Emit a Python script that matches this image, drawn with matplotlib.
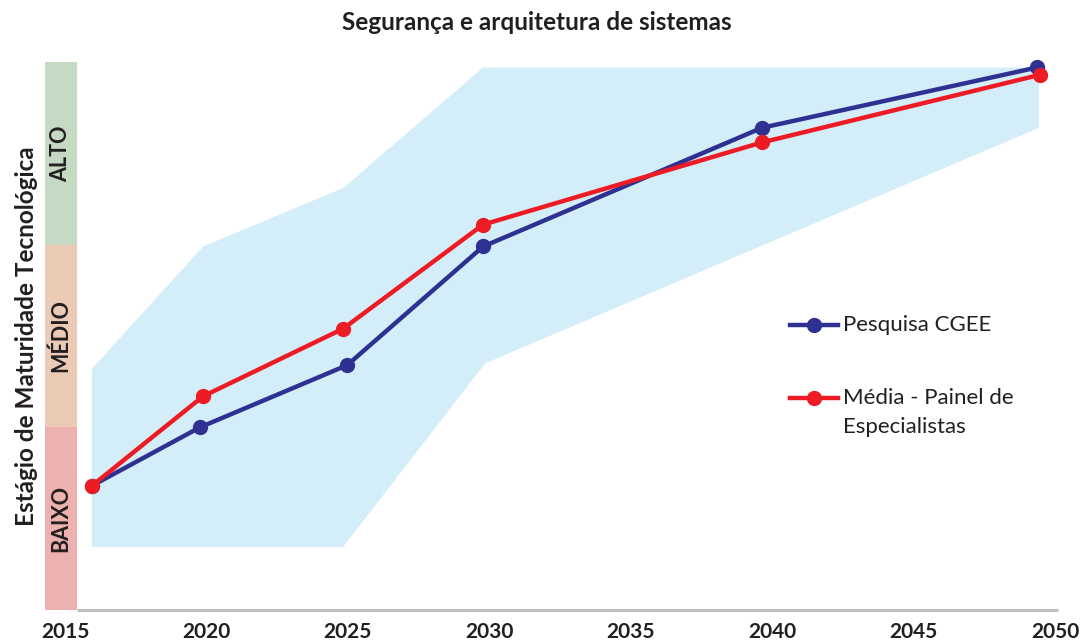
import matplotlib
matplotlib.use("Agg")
import matplotlib.pyplot as plt
from matplotlib.patches import Rectangle

plt.rcParams['font.family'] = ['Lato', 'DejaVu Sans']

# series read as (year, maturity level); 0-1 baixo, 1-2 medio, 2-3 alto
years_cgee = [2015.95, 2019.77, 2024.97, 2029.78, 2039.64, 2049.36]
vals_cgee = [0.68, 1.00, 1.34, 1.99, 2.64, 2.97]
years_painel = [2015.95, 2019.88, 2024.83, 2029.78, 2039.64, 2049.46]
vals_painel = [0.68, 1.17, 1.54, 2.11, 2.56, 2.93]

# spread of the expert panel (upper and lower envelope)
band_years_up = [2015.95, 2019.88, 2024.83, 2029.78, 2049.43]
band_up = [1.32, 1.99, 2.31, 2.97, 2.97]
band_years_low = [2015.95, 2024.83, 2029.85, 2049.43]
band_low = [0.345, 0.345, 1.35, 2.64]

levels = ['BAIXO', 'MÉDIO', 'ALTO']
level_colors = ['#edb1b0', '#ebcbb6', '#c6d9c4']
xticks = [2015, 2020, 2025, 2030, 2035, 2040, 2045, 2050]

BLUE = '#2e3192'
RED = '#ed1c24'
INK = '#231f20'

fig = plt.figure(figsize=(10.89, 6.43), dpi=100)
W, H = 1089.0, 643.0
ax = fig.add_axes([45 / W, 33 / H, (1062 - 45) / W, 548 / H])
x0, x1 = 2014.293, 2050.24
ax.set_xlim(x0, x1)
ax.set_ylim(0, 3)
for s in ax.spines.values():
    s.set_visible(False)

# shaded spread
poly_x = band_years_up + band_years_low[::-1]
poly_y = band_up + band_low[::-1]
ax.fill(poly_x, poly_y, color='#d4eef9', lw=0, zorder=1)

# maturity level strip on the left
strip_right = 2015.424
for i, (lab, col) in enumerate(zip(levels, level_colors)):
    ax.add_patch(Rectangle((x0, i), strip_right - x0, 1, color=col, lw=0,
                           clip_on=False, zorder=2))
    ax.text((x0 + strip_right) / 2, i + 0.5, lab, rotation=90, ha='center',
            va='center', fontsize=15.5, fontweight='bold', color=INK, zorder=3)

# baseline
ax.plot([strip_right, 2050.10], [0, 0], color='#bcbec0', lw=2.2,
        solid_capstyle='butt', clip_on=False, zorder=2)

ax.plot(years_cgee, vals_cgee, color=BLUE, lw=3.2, marker='o', ms=10,
        zorder=4, clip_on=False)
ax.plot(years_painel, vals_painel, color=RED, lw=3.2, marker='o', ms=10,
        zorder=5, clip_on=False)

ax.set_xticks(xticks)
ax.set_xticklabels([str(t) for t in xticks], fontsize=15, fontweight='bold',
                   color=INK)
ax.tick_params(axis='x', length=0, pad=9)
ax.set_yticks([])

ax.set_ylabel('Estágio de Maturidade Tecnológica', fontsize=17.5,
              fontweight='bold', color=INK)
ax.yaxis.set_label_coords(-7 / 1017, 0.5)

fig.text(537 / W, 1 - 22 / H, 'Segurança e arquitetura de sistemas',
         ha='center', va='center', fontsize=17.5, fontweight='bold',
         color=INK)


# hand-placed legend
def fx(px):
    return (px - 45) / 1017.0


def fy(py):
    return (610 - py) / 548.0


entries = [(BLUE, 'Pesquisa CGEE', 325),
           (RED, 'Média - Painel de\nEspecialistas', 398)]
for col, lab, py in entries:
    ax.plot([fx(790), fx(838)], [fy(py), fy(py)], color=col, lw=3.2,
            transform=ax.transAxes, clip_on=False, zorder=6)
    ax.plot([fx(814)], [fy(py)], color=col, marker='o', ms=10,
            transform=ax.transAxes, clip_on=False, zorder=6)
    ax.text(fx(843), fy(py - 10), lab, transform=ax.transAxes, ha='left',
            va='top', fontsize=16, color=INK, linespacing=1.55)

fig.savefig('out.png', dpi=100)
